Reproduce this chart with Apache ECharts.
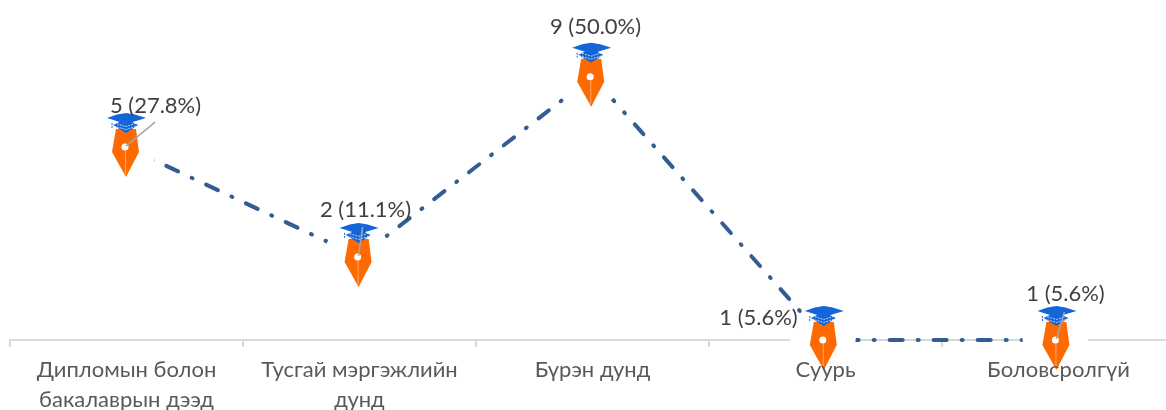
<!DOCTYPE html>
<html><head><meta charset="utf-8">
<style>html,body{margin:0;padding:0;background:#fff}#c{width:1166px;height:410px}</style>
<script src="https://cdn.jsdelivr.net/npm/echarts@6/dist/echarts.min.js"></script>
</head><body><div id="c"></div>
<script>
const categories = ['Дипломын болон\nбакалаврын дээд','Тусгай мэргэжлийн\nдунд','Бүрэн дунд','Суурь','Боловсролгүй'];
const counts = [5,2,9,1,1];
const shares = ['27.8','11.1','50.0','5.6','5.6'];
const FONT = 'Lato, "Open Sans", "Noto Sans", sans-serif';
// label centre relative to the data point, and the leader end (null = no leader)
const labelPlacement = [
  {dx:29,dy:-41,lead:[30,-25]},
  {dx:6,dy:-47,lead:[5,-30]},
  {dx:3,dy:-50,lead:null},
  {dx:-67,dy:-22,lead:null},
  {dx:7,dy:-46,lead:[9,-28]}
];
const chart = echarts.init(document.getElementById('c'),null,{renderer:'canvas'});
function renderMark(params,api){
  const p = api.coord([params.dataIndex,api.value(1)]);
  const i = params.dataIndex, pl = labelPlacement[i];
  const x = p[0]-1.5-i*0.4, y = p[1];
  const kids = [
    {type:'circle',shape:{cx:x,cy:y-2,r:33},style:{fill:'#fff'}},
    // pen body
    {type:'polygon',shape:{points:[[x-9,y-18],[x+11,y-18],[x+14,y+5],[x+1,y+30],[x-13,y+5]]},style:{fill:'#ff6a00'}},
    {type:'line',shape:{x1:x+.5,y1:y,x2:x+.5,y2:y+27},style:{stroke:'#ff9d5c',lineWidth:1.2}},
    {type:'circle',shape:{cx:x,cy:y,r:3.5},style:{fill:'#fff'}},
    // mortarboard layers
    {type:'polygon',shape:{points:[[x-12,y-22],[x+1,y-28],[x+13,y-22],[x+1,y-14]]},style:{fill:'#1565d8'}},
    {type:'polyline',shape:{points:[[x-11,y-21],[x+1,y-17.5],[x+12,y-21]]},style:{stroke:'#fff',fill:'none',lineWidth:.7,lineDash:[2,1]}},
    {type:'polygon',shape:{points:[[x-18,y-29],[x-8,y-32.5],[x+1,y-34],[x+10,y-32.5],[x+21,y-29],[x+1,y-23]]},style:{fill:'#1565d8'}},
    {type:'polyline',shape:{points:[[x-11,y-24],[x+1,y-20.5],[x+12,y-24]]},style:{stroke:'#fff',fill:'none',lineWidth:.7,lineDash:[2,1]}},
    {type:'line',shape:{x1:x-13,y1:y-24,x2:x-13,y2:y-19},style:{stroke:'#1565d8',lineWidth:1,lineDash:[2,1]}}
  ];
  if(pl.lead){
    kids.push({type:'line',shape:{x1:x+1,y1:y-1,x2:x+pl.lead[0],y2:y+pl.lead[1]},style:{stroke:'#a6a6a6',lineWidth:1.5}});
  }
  kids.push({type:'text',style:{x:p[0]+pl.dx,y:p[1]+pl.dy,text:counts[i]+' ('+shares[i]+'%)',align:'center',verticalAlign:'middle',fill:'#404040',font:'22px '+FONT}});
  return {type:'group',children:kids};
}
chart.setOption({
  animation:false,
  backgroundColor:'#fff',
  grid:{left:10,width:1165,top:64,height:276,outerBoundsMode:'none',containLabel:false},
  xAxis:[
    {type:'category',data:categories,boundaryGap:true,
     axisLine:{show:true,lineStyle:{color:'#d9d9d9',width:2}},
     axisTick:{show:true,alignWithLabel:false,length:7,lineStyle:{color:'#d9d9d9',width:2}},
     axisLabel:{show:false},splitLine:{show:false}},
    {type:'category',data:categories,position:'bottom',z:20,
     axisLine:{show:false},axisTick:{show:false},splitLine:{show:false},
     axisLabel:{show:true,interval:0,color:'#595959',fontFamily:FONT,fontSize:22,lineHeight:30,margin:15}}
  ],
  yAxis:{type:'log',logBase:10,min:1,max:10,show:false},
  series:[
    {type:'line',data:counts,xAxisIndex:0,symbol:'none',z:1,clip:false,
     lineStyle:{color:'#335d92',width:4,type:[13,15,1,15],cap:'round'}},
    {type:'custom',data:counts.map((v,i)=>[i,v]),xAxisIndex:0,z:5,clip:false,renderItem:renderMark,
     encode:{x:0,y:1}}
  ]
});
</script></body></html>
